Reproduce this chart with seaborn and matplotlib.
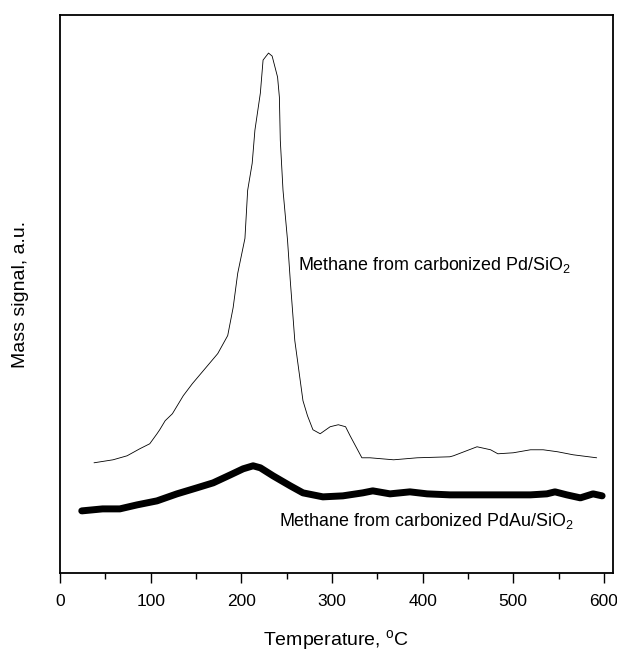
import numpy as np
import pandas as pd
import matplotlib
matplotlib.use("Agg")
import matplotlib.pyplot as plt
from matplotlib.ticker import MultipleLocator
import seaborn as sns

# Pd/SiO2 (thin line)
pd_temp = [37.5, 58.5, 74, 88, 99, 107, 110, 116, 124, 136, 146, 160, 174, 185, 191, 196,
           204, 207, 212, 215, 221, 224, 230, 234, 240, 242, 243, 246, 251, 254, 259, 268,
           273, 279, 287, 298, 307, 315, 320, 333, 342, 368, 394, 430, 434, 460, 475, 483,
           500, 519, 533, 549, 566, 592]
pd_signal = [1.10, 1.13, 1.17, 1.24, 1.29, 1.39, 1.43, 1.52, 1.59, 1.77, 1.89, 2.04, 2.19, 2.37, 2.65, 2.99,
             3.34, 3.82, 4.09, 4.42, 4.79, 5.12, 5.19, 5.16, 4.95, 4.75, 4.32, 3.82, 3.32, 2.92, 2.32, 1.72,
             1.57, 1.43, 1.39, 1.46, 1.48, 1.46, 1.37, 1.15, 1.15, 1.13, 1.15, 1.16, 1.17, 1.26, 1.23, 1.19,
             1.20, 1.23, 1.23, 1.21, 1.18, 1.15]

# PdAu/SiO2 (thick line)
pdau_temp = [24, 47, 66, 85, 107, 129, 151, 169, 188, 202, 213, 221, 235, 254, 268, 290,
             312, 334, 345, 364, 386, 405, 430, 445, 519, 537, 546, 559, 574, 588, 598]
pdau_signal = [0.62, 0.64, 0.64, 0.68, 0.72, 0.79, 0.85, 0.90, 0.98, 1.04, 1.07, 1.05, 0.97, 0.87, 0.80, 0.76,
               0.77, 0.80, 0.82, 0.79, 0.81, 0.79, 0.78, 0.78, 0.78, 0.79, 0.81, 0.78, 0.75, 0.79, 0.77]

x_ticks = [0, 100, 200, 300, 400, 500, 600]

sns.set_theme(style="ticks")
plt.rcParams['font.family'] = ['Liberation Sans', 'DejaVu Sans']
plt.rcParams['mathtext.fontset'] = 'custom'
plt.rcParams['mathtext.rm'] = 'Liberation Sans'
plt.rcParams['text.color'] = 'black'
plt.rcParams['axes.labelcolor'] = 'black'
plt.rcParams['xtick.color'] = 'black'
plt.rcParams['xtick.labelcolor'] = 'black'

df_pd = pd.DataFrame({"T": pd_temp, "S": pd_signal})
df_pdau = pd.DataFrame({"T": pdau_temp, "S": pdau_signal})

fig = plt.figure(figsize=(6.17, 6.52), dpi=100)
ax = fig.add_axes([60/617, 79/652, 553/617, 558/652])

sns.lineplot(data=df_pd, x="T", y="S", ax=ax, color="black", linewidth=0.6, sort=False)
sns.lineplot(data=df_pdau, x="T", y="S", ax=ax, color="black", linewidth=5.0, sort=False,
             solid_capstyle="round", solid_joinstyle="round")

ax.set_xlim(0, 610)
ax.set_ylim(0, 5.57)
ax.set_xticks(x_ticks)
ax.xaxis.set_minor_locator(MultipleLocator(50))
ax.set_yticks([])
ax.tick_params(axis="x", which="major", direction="out", length=7, width=1, labelsize=12.5, pad=8,
               color="black", labelcolor="black")
ax.tick_params(axis="x", which="minor", direction="out", length=4, width=1, color="black")
for s in ax.spines.values():
    s.set_visible(True)
    s.set_linewidth(1.3)
    s.set_color("black")

ax.set_xlabel(r"Temperature, $^{\mathrm{o}}$C", fontsize=14, labelpad=14, color="black")
ax.set_ylabel("Mass signal, a.u.", fontsize=14, labelpad=22, color="black")

ax.text(263, 3.07, r"Methane from carbonized Pd/SiO$_{\mathrm{2}}$", fontsize=12.9, va="center", ha="left", color="black")
ax.text(242, 0.52, r"Methane from carbonized PdAu/SiO$_{\mathrm{2}}$", fontsize=12.9, va="center", ha="left", color="black")

fig.savefig("out.png", dpi=100)
